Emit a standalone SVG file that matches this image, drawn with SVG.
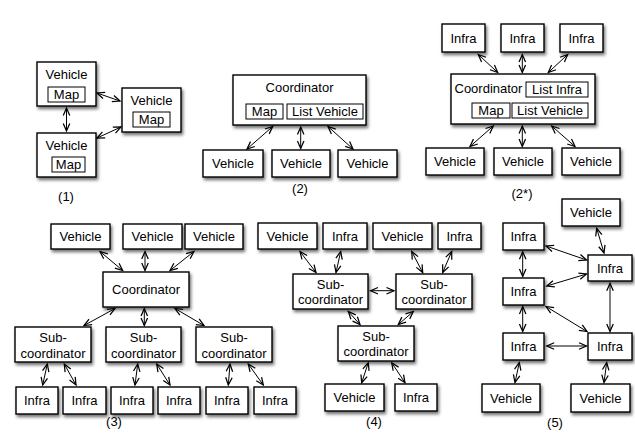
<svg xmlns="http://www.w3.org/2000/svg" width="635" height="441" viewBox="0 0 635 441">
<style>
.b{fill:#fff;stroke:#000;stroke-width:1.4;filter:url(#sh)}
.i{fill:#fff;stroke:#000;stroke-width:1}
text{font-family:"Liberation Sans",Arial,Helvetica,sans-serif;font-size:13px;fill:#000;text-anchor:middle}
.s{text-anchor:start}
#conn line{stroke:#000;stroke-width:1;marker-start:url(#ah);marker-end:url(#ah)}
</style>
<defs>
<filter id="sh" x="-20%" y="-20%" width="150%" height="160%">
<feDropShadow dx="1.5" dy="2.5" stdDeviation="1.8" flood-color="#000" flood-opacity="0.55"/>
</filter>
<marker id="ah" markerUnits="userSpaceOnUse" markerWidth="10" markerHeight="10" refX="6" refY="0" viewBox="-1 -4 8 8" orient="auto-start-reverse" overflow="visible">
<path d="M0,-2.6 L6,0 L0,2.6" fill="none" stroke="#000" stroke-width="1"/>
</marker>
</defs>
<rect width="635" height="441" fill="#fff"/>

<!-- Diagram 1 -->
<g id="d1-v1"><rect class="b" x="37" y="62" width="59" height="44"/><text x="66.5" y="79">Vehicle</text><rect class="i" x="48" y="87" width="37" height="15"/><text x="66.5" y="99">Map</text></g>
<g id="d1-v2"><rect class="b" x="122" y="88" width="59" height="44"/><text x="151.5" y="105">Vehicle</text><rect class="i" x="133" y="112" width="37" height="15"/><text x="151.5" y="124">Map</text></g>
<g id="d1-v3"><rect class="b" x="37" y="133" width="59" height="44"/><text x="66.5" y="150">Vehicle</text><rect class="i" x="52" y="157" width="33" height="15"/><text x="68.5" y="169">Map</text></g>
<text x="66" y="201">(1)</text>

<!-- Diagram 2 -->
<g id="d2-coord"><rect class="b" x="233" y="75" width="133" height="50"/><text x="299.5" y="92">Coordinator</text><rect class="i" x="246" y="104" width="37" height="15"/><text x="264.5" y="116">Map</text><rect class="i" x="287" y="104" width="76" height="15"/><text x="325" y="116">List Vehicle</text></g>
<g id="d2-v1"><rect class="b" x="203" y="150" width="60" height="27"/><text x="233" y="168">Vehicle</text></g>
<g id="d2-v2"><rect class="b" x="272" y="150" width="58" height="27"/><text x="301" y="168">Vehicle</text></g>
<g id="d2-v3"><rect class="b" x="338" y="150" width="59" height="27"/><text x="367.5" y="168">Vehicle</text></g>
<text x="300" y="193">(2)</text>

<!-- Diagram 2* -->
<g id="d2s-i1"><rect class="b" x="442" y="24" width="43" height="28"/><text x="463.5" y="42.5">Infra</text></g>
<g id="d2s-i2"><rect class="b" x="501" y="24" width="43" height="28"/><text x="522.5" y="42.5">Infra</text></g>
<g id="d2s-i3"><rect class="b" x="560" y="24" width="43" height="28"/><text x="581.5" y="42.5">Infra</text></g>
<g id="d2s-coord"><rect class="b" x="451" y="74" width="144" height="50"/><text class="s" x="454.5" y="93">Coordinator</text><rect class="i" x="526" y="82" width="62" height="15"/><text x="557" y="94">List Infra</text><rect class="i" x="472" y="103" width="38" height="15"/><text x="491" y="115">Map</text><rect class="i" x="512" y="103" width="76" height="15"/><text x="550" y="115">List Vehicle</text></g>
<g id="d2s-v1"><rect class="b" x="426" y="148" width="58" height="27"/><text x="455" y="166">Vehicle</text></g>
<g id="d2s-v2"><rect class="b" x="494" y="148" width="58" height="27"/><text x="523" y="166">Vehicle</text></g>
<g id="d2s-v3"><rect class="b" x="562" y="148" width="58" height="27"/><text x="591" y="166">Vehicle</text></g>
<text x="522" y="198">(2*)</text>

<!-- Diagram 3 -->
<g id="d3-v1"><rect class="b" x="51" y="224" width="59" height="25"/><text x="80.5" y="241">Vehicle</text></g>
<g id="d3-v2"><rect class="b" x="123" y="224" width="59" height="25"/><text x="152.5" y="241">Vehicle</text></g>
<g id="d3-v3"><rect class="b" x="185" y="224" width="58" height="25"/><text x="214" y="241">Vehicle</text></g>
<g id="d3-coord"><rect class="b" x="103" y="272" width="86" height="35"/><text x="146" y="294">Coordinator</text></g>
<g id="d3-s1"><rect class="b" x="15" y="327" width="76" height="35"/><text x="53" y="342">Sub-</text><text x="53" y="358">coordinator</text></g>
<g id="d3-s2"><rect class="b" x="106" y="327" width="75" height="35"/><text x="143.5" y="342">Sub-</text><text x="143.5" y="358">coordinator</text></g>
<g id="d3-s3"><rect class="b" x="196" y="327" width="76" height="35"/><text x="234" y="342">Sub-</text><text x="234" y="358">coordinator</text></g>
<g id="d3-i1"><rect class="b" x="16" y="387" width="42" height="27"/><text x="37" y="405">Infra</text></g>
<g id="d3-i2"><rect class="b" x="63" y="387" width="43" height="27"/><text x="84.5" y="405">Infra</text></g>
<g id="d3-i3"><rect class="b" x="111" y="387" width="42" height="27"/><text x="132" y="405">Infra</text></g>
<g id="d3-i4"><rect class="b" x="158" y="387" width="42" height="27"/><text x="179" y="405">Infra</text></g>
<g id="d3-i5"><rect class="b" x="206" y="387" width="42" height="27"/><text x="227" y="405">Infra</text></g>
<g id="d3-i6"><rect class="b" x="254" y="387" width="42" height="27"/><text x="275" y="405">Infra</text></g>
<text x="114" y="426">(3)</text>

<!-- Diagram 4 -->
<g id="d4-v1"><rect class="b" x="258" y="223" width="59" height="26"/><text x="287.5" y="240.5">Vehicle</text></g>
<g id="d4-i1"><rect class="b" x="323" y="223" width="44" height="26"/><text x="345" y="240.5">Infra</text></g>
<g id="d4-v2"><rect class="b" x="373" y="223" width="59" height="26"/><text x="402.5" y="240.5">Vehicle</text></g>
<g id="d4-i2"><rect class="b" x="438" y="223" width="43" height="26"/><text x="459.5" y="240.5">Infra</text></g>
<g id="d4-s1"><rect class="b" x="293" y="274" width="75" height="35"/><text x="330.5" y="289">Sub-</text><text x="330.5" y="304">coordinator</text></g>
<g id="d4-s2"><rect class="b" x="396" y="274" width="76" height="35"/><text x="434" y="289">Sub-</text><text x="434" y="304">coordinator</text></g>
<g id="d4-s3"><rect class="b" x="338" y="326" width="76" height="35"/><text x="376" y="341">Sub-</text><text x="376" y="356">coordinator</text></g>
<g id="d4-v3"><rect class="b" x="325" y="384" width="59" height="27"/><text x="354.5" y="402">Vehicle</text></g>
<g id="d4-i3"><rect class="b" x="395" y="384" width="42" height="27"/><text x="416" y="402">Infra</text></g>
<text x="374" y="426">(4)</text>

<!-- Diagram 5 -->
<g id="d5-vt"><rect class="b" x="562" y="199" width="58" height="27"/><text x="591" y="217">Vehicle</text></g>
<g id="d5-ia"><rect class="b" x="503" y="223" width="41" height="27"/><text x="523.5" y="241">Infra</text></g>
<g id="d5-ib"><rect class="b" x="588" y="255" width="44" height="26"/><text x="610" y="272.5">Infra</text></g>
<g id="d5-ic"><rect class="b" x="503" y="278" width="41" height="27"/><text x="523.5" y="296">Infra</text></g>
<g id="d5-id"><rect class="b" x="503" y="333" width="41" height="27"/><text x="523.5" y="351">Infra</text></g>
<g id="d5-ie"><rect class="b" x="588" y="333" width="44" height="27"/><text x="610" y="351">Infra</text></g>
<g id="d5-vl"><rect class="b" x="482" y="384" width="58" height="28"/><text x="511" y="402.5">Vehicle</text></g>
<g id="d5-vr"><rect class="b" x="571" y="384" width="59" height="28"/><text x="600.5" y="402.5">Vehicle</text></g>
<text x="555" y="427">(5)</text>

<g id="conn">
<!-- d1 -->
<line x1="66.5" y1="108" x2="66.5" y2="131"/>
<line x1="97" y1="93" x2="120" y2="101"/>
<line x1="97" y1="138" x2="121" y2="127"/>
<!-- d2 -->
<line x1="272.7" y1="126.5" x2="247" y2="149"/>
<line x1="300.7" y1="127" x2="300.7" y2="148.5"/>
<line x1="328" y1="126.5" x2="353" y2="149"/>
<!-- d2* -->
<line x1="478.3" y1="54.5" x2="497.7" y2="72.5"/>
<line x1="522.3" y1="54.5" x2="522.3" y2="72.5"/>
<line x1="567.7" y1="54.5" x2="548.3" y2="72.5"/>
<line x1="493.3" y1="126" x2="470" y2="146.5"/>
<line x1="522.3" y1="126" x2="522.3" y2="146.5"/>
<line x1="551.7" y1="126" x2="575" y2="146.5"/>
<!-- d3 -->
<line x1="100" y1="251.5" x2="122.7" y2="270.5"/>
<line x1="145" y1="251.5" x2="145" y2="270.5"/>
<line x1="194" y1="251.5" x2="170" y2="270.5"/>
<line x1="115" y1="308.5" x2="84" y2="325.5"/>
<line x1="144.3" y1="308.5" x2="144.3" y2="325.5"/>
<line x1="175" y1="308.5" x2="204" y2="325.5"/>
<line x1="47.3" y1="364" x2="42.7" y2="385"/>
<line x1="64.3" y1="364" x2="76" y2="385"/>
<line x1="137.7" y1="364" x2="135" y2="385"/>
<line x1="156.7" y1="364" x2="170" y2="385"/>
<line x1="230" y1="364" x2="228.3" y2="385"/>
<line x1="248.3" y1="364" x2="263.3" y2="385"/>
<!-- d4 -->
<line x1="300" y1="251.5" x2="316" y2="272.5"/>
<line x1="340.7" y1="251.5" x2="336" y2="272.5"/>
<line x1="411.7" y1="251.5" x2="422.7" y2="272.5"/>
<line x1="451.7" y1="251.5" x2="442.7" y2="272.5"/>
<line x1="370.5" y1="290.7" x2="394" y2="290.7"/>
<line x1="348.3" y1="311.5" x2="360" y2="324.5"/>
<line x1="413.3" y1="311.5" x2="398.3" y2="324.5"/>
<line x1="368.3" y1="362.7" x2="361.7" y2="382.7"/>
<line x1="391.7" y1="362.7" x2="405" y2="382.7"/>
<!-- d5 -->
<line x1="596.7" y1="228.3" x2="604" y2="253"/>
<line x1="546" y1="246" x2="586.5" y2="260"/>
<line x1="522.7" y1="251.7" x2="522.7" y2="276.5"/>
<line x1="546.7" y1="286" x2="586.5" y2="274"/>
<line x1="522.7" y1="306.5" x2="522.7" y2="331.5"/>
<line x1="546" y1="306.5" x2="587" y2="331.5"/>
<line x1="610" y1="283.3" x2="610" y2="331.5"/>
<line x1="546.7" y1="346" x2="586.5" y2="346"/>
<line x1="519.3" y1="362.5" x2="515" y2="382.5"/>
<line x1="606.7" y1="362.5" x2="604" y2="382.5"/>
</g>
</svg>
